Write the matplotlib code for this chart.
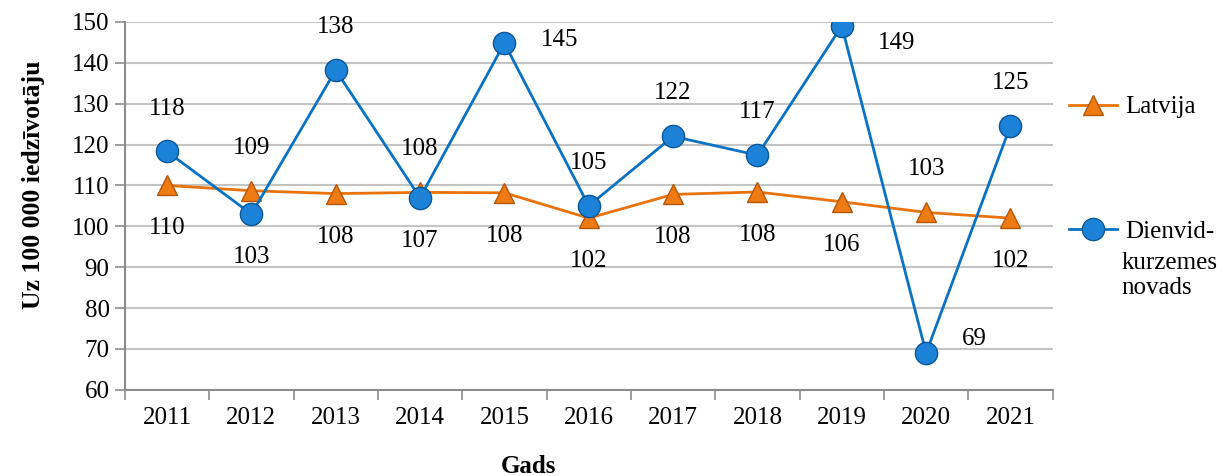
import matplotlib
matplotlib.use("Agg")
import matplotlib.pyplot as plt
from matplotlib.lines import Line2D

plt.rcParams['font.family'] = ['Liberation Serif', 'DejaVu Serif']

# data
years = ['2011', '2012', '2013', '2014', '2015', '2016', '2017', '2018', '2019', '2020', '2021']
latvija = [110, 108.7, 108, 108.3, 108.2, 102, 107.8, 108.4, 106, 103.4, 102]
latvija_lbl = [110, 109, 108, 108, 108, 102, 108, 108, 106, 103, 102]
dienvid = [118.3, 103, 138.2, 107, 144.8, 105, 122, 117.4, 149, 69, 124.6]
dienvid_lbl = [118, 103, 138, 107, 145, 105, 122, 117, 149, 69, 125]

# where each value label goes: a = above, b = below, r/rd/ru = right (level/down/up)
latvija_pos = ['b', 'a', 'b', 'a', 'b', 'b', 'b', 'b', 'b', 'a', 'b']
dienvid_pos = ['a', 'b', 'a', 'b', 'r', 'a', 'a', 'a', 'rd', 'ru', 'a']

orange = '#E8730C'
blue = '#0A72C4'
fs = 18

fig = plt.figure(figsize=(12.24, 4.76), dpi=100)
ax = fig.add_axes([0.102, 0.181, 0.758, 0.773])

x = list(range(len(years)))
ax.plot(x, latvija, color=orange, lw=2, marker='^', ms=15,
        mfc='#EE7A12', mec='#B5560A', mew=1, zorder=3)
ax.plot(x, dienvid, color=blue, lw=2, marker='o', ms=16,
        mfc='#1C82D8', mec='#0B5796', mew=1, zorder=4)

offsets = {'a': (0, 23, 'center', 'bottom'),
           'b': (0, -23, 'center', 'top'),
           'r': (26, 2, 'left', 'center'),
           'rd': (26, -12, 'left', 'center'),
           'ru': (26, 10, 'left', 'center')}


def put_labels(vals, lbls, pos):
    for i in range(len(vals)):
        dx, dy, ha, va = offsets[pos[i]]
        ax.annotate(str(lbls[i]), (i, vals[i]), xytext=(dx, dy),
                    textcoords='offset points', ha=ha, va=va, fontsize=fs)


put_labels(latvija, latvija_lbl, latvija_pos)
put_labels(dienvid, dienvid_lbl, dienvid_pos)

ax.set_xlim(-0.5, len(years) - 0.5)
ax.set_ylim(60, 150)
ax.set_yticks(range(60, 151, 10))
ax.set_xticks(x)
ax.set_xticklabels(years)
ax.set_xticks([i - 0.5 for i in range(len(years) + 1)], minor=True)
ax.tick_params(axis='x', which='major', length=0, pad=12, labelsize=fs)
ax.tick_params(axis='x', which='minor', length=7, color='#8c8c8c', width=1.2)
ax.tick_params(axis='y', length=7, color='#8c8c8c', width=1.2, labelsize=fs, pad=4)
ax.grid(axis='y', color='#c4c4c4', lw=1.5)
ax.set_axisbelow(True)
for s in ['top', 'right']:
    ax.spines[s].set_visible(False)
for s in ['left', 'bottom']:
    ax.spines[s].set_color('#8c8c8c')
    ax.spines[s].set_linewidth(1.5)

ax.set_ylabel('Uz 100 000 iedzīvotāju', fontsize=18.5, fontweight='bold')
ax.yaxis.set_label_coords(-0.086, 0.557)
fig.text(0.432, 0.021, 'Gads', fontsize=fs, fontweight='bold', ha='center', va='center')

# legend on the right side
h1 = Line2D([], [], color=orange, lw=2, marker='^', ms=15, mfc='#EE7A12', mec='#B5560A')
h2 = Line2D([], [], color=blue, lw=2, marker='o', ms=16, mfc='#1C82D8', mec='#0B5796')
leg1 = fig.legend([h1], ['Latvija'], loc='center left', bbox_to_anchor=(0.855, 0.775),
                  frameon=False, fontsize=fs, handlelength=1.9, handletextpad=0.35)
leg2 = fig.legend([h2], ['Dienvid-'], loc='center left', bbox_to_anchor=(0.855, 0.513),
                  frameon=False, fontsize=fs, handlelength=1.9, handletextpad=0.35)
fig.text(0.9165, 0.421, 'kurzemes\nnovads', fontsize=fs, ha='left', va='center',
         linespacing=1.2)

fig.savefig('out.png', dpi=100)
